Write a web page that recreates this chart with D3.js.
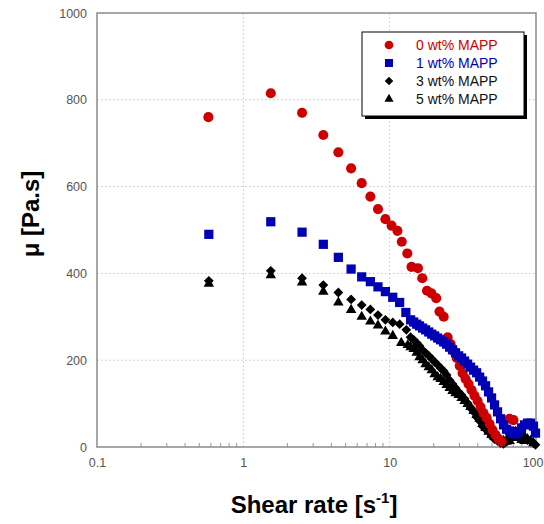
<!DOCTYPE html>
<html>
<head>
<meta charset="utf-8">
<script src="https://cdn.jsdelivr.net/npm/d3@7/dist/d3.min.js"></script>
<style>
	body { margin: 0; background: #fff; }
	text { font-family: "Liberation Sans", Arial, sans-serif; }
</style>
</head>
<body>
<div id="chart"></div>
<script>
// shear rate [1/s] and viscosity [Pa.s]
const rate0 = [0.577, 1.54, 2.52, 3.52, 4.46, 5.45, 6.44, 7.38, 8.32, 9.35, 10.3, 11.3, 12.1, 13.2, 14.1, 15.6, 16.7, 18.0, 19.3, 20.8, 21.9, 23.4,
	24.9, 26.1, 27.4, 28.7, 30.1, 31.5, 33.0, 34.6, 36.3, 38.0, 39.9, 41.8, 43.8, 46.0, 48.2, 50.5, 52.9, 55.5, 58.2, 66.0, 70.2];
const mu0 = [760, 815, 770, 719, 679, 642, 608, 577, 548, 525, 510, 498, 473, 446, 415, 412, 389, 360, 354, 343, 312, 300,
	253, 237, 221, 205, 187, 170, 157, 145, 131, 118, 106, 92, 78, 67, 53, 39, 28, 18, 12, 65, 62];

const rate1 = [0.581, 1.54, 2.52, 3.52, 4.46, 5.45, 6.44, 7.38, 8.32, 9.35, 10.5, 11.7, 12.9, 13.9,
	14.6, 15.3, 16.0, 16.8, 17.6, 18.5, 19.4, 20.3, 21.3, 22.3, 23.4, 24.5, 25.7, 26.9, 28.2, 29.6, 31.0, 32.5, 34.1, 35.7, 37.5, 39.3,
	41.2, 43.1, 45.2, 47.4, 49.7, 52.1, 54.6, 57.3, 60.0, 62.9, 66.0, 69.1, 72.5, 76.0, 79.6, 83.5, 87.5, 91.7, 96.1, 99.2];
const mu1 = [490, 519, 495, 467, 437, 410, 392, 381, 369, 358, 345, 333, 310, 293,
	288, 283, 279, 274, 270, 265, 260, 256, 251, 247, 242, 237, 230, 224, 217, 210, 205, 198, 191, 184, 177, 171,
	161, 152, 141, 127, 113, 97, 81, 65, 51, 41, 37, 32, 30, 35, 44, 51, 55, 55, 48, 32];

const rate3 = [0.581, 1.54, 2.52, 3.52, 4.46, 5.45, 6.44, 7.38, 8.32, 9.35, 10.5, 11.7, 13.0,
	13.9, 14.6, 15.3, 16.0, 16.8, 17.6, 18.5, 19.4, 20.3, 21.3, 22.3, 23.4, 24.5, 25.7, 26.9, 28.2, 29.6, 31.0, 32.5, 34.1, 35.7, 37.5,
	39.3, 41.2, 43.1, 45.2, 47.4, 49.7, 52.1, 54.6, 57.3, 60.0, 62.9, 66.0, 69.1, 72.5, 76.0, 79.6, 83.5, 87.5, 91.7, 96.1, 99.2];
const mu3 = [383, 406, 389, 373, 356, 340, 327, 317, 304, 293, 287, 283, 270,
	253, 247, 240, 233, 223, 217, 210, 203, 196, 189, 182, 175, 166, 154, 145, 136, 127, 120, 111, 101, 90, 81,
	69, 60, 48, 41, 35, 25, 18, 14, 9, 7, 12, 23, 32, 37, 39, 32, 23, 16, 14, 9, 5];

const rate5 = [0.581, 1.54, 2.52, 3.52, 4.46, 5.45, 6.44, 7.38, 8.32, 9.35, 10.5, 12.0,
	13.3, 13.9, 14.6, 15.3, 16.0, 16.8, 17.6, 18.5, 19.4, 20.3, 21.3, 22.3, 23.4, 24.5, 25.7, 26.9, 28.2, 29.6, 31.0, 32.5, 34.1, 35.7,
	37.5, 39.3, 41.2, 43.1, 45.2, 47.4, 49.7, 52.1, 54.6, 57.3, 60.0, 62.9, 66.0, 69.1, 72.5, 76.0, 79.6, 83.5, 87.5, 91.7, 96.1];
const mu5 = [376, 396, 379, 358, 333, 316, 300, 289, 280, 266, 256, 240,
	235, 230, 226, 217, 207, 200, 191, 184, 177, 168, 161, 157, 150, 143, 136, 129, 124, 120, 113, 106, 99, 92,
	83, 74, 65, 53, 44, 35, 28, 23, 18, 16, 14, 12, 14, 21, 23, 21, 16, 14, 18, 14, 9];

const seriesNames = ['0 wt% MAPP', '1 wt% MAPP', '3 wt% MAPP', '5 wt% MAPP'];
const seriesColors = ['#cc0000', '#0000b4', '#000000', '#000000'];
const seriesShapes = [d3.symbolCircle, d3.symbolSquare, d3.symbolSquare, d3.symbolTriangle];
const seriesRotate = [0, 0, 45, 0];
const seriesSizes = [80, 85, 48, 48];

const xTicks = [0.1, 1, 10, 100];
const yTicks = [0, 200, 400, 600, 800, 1000];

const W = 544, H = 524;
const margin = { top: 13, right: 8, bottom: 77, left: 97 };

const svg = d3.select('#chart').append('svg')
	.attr('width', W)
	.attr('height', H);

const x = d3.scaleLog().domain([0.1, 100]).range([margin.left, W - margin.right]);
const y = d3.scaleLinear().domain([0, 1000]).range([H - margin.bottom, margin.top]);

// gridlines
const $grid = svg.append('g');
$grid.selectAll('.hg')
	.data(yTicks.slice(1, -1))
	.enter().append('line')
	.attr('x1', x(0.1)).attr('x2', x(100))
	.attr('y1', d => y(d)).attr('y2', d => y(d))
	.attr('stroke', '#c4c4c4')
	.attr('stroke-dasharray', '1.5,2.5');
$grid.selectAll('.vg')
	.data(xTicks.slice(1, -1))
	.enter().append('line')
	.attr('x1', d => x(d)).attr('x2', d => x(d))
	.attr('y1', y(0)).attr('y2', y(1000))
	.attr('stroke', '#c4c4c4')
	.attr('stroke-dasharray', '1.5,2.5');

// minor ticks on log axis
const minor = [];
[0.1, 1, 10].forEach(dec => {
	for (let k = 2; k <= 9; k++) minor.push(dec * k);
});
svg.append('g').selectAll('line')
	.data(minor)
	.enter().append('line')
	.attr('x1', d => x(d)).attr('x2', d => x(d))
	.attr('y1', y(0)).attr('y2', y(0) - 4)
	.attr('stroke', '#999');

// axes
const xAxis = svg.append('g')
	.attr('transform', `translate(0,${y(0)})`)
	.call(d3.axisBottom(x).tickValues(xTicks).tickFormat(d3.format('')).tickSize(0).tickPadding(11));
const yAxis = svg.append('g')
	.attr('transform', `translate(${x(0.1)},0)`)
	.call(d3.axisLeft(y).tickValues(yTicks).tickFormat(d3.format('d')).tickSize(0).tickPadding(10));
[xAxis, yAxis].forEach($a => {
	$a.select('.domain').remove();
	$a.selectAll('text')
		.style('font-family', '"Liberation Sans", Arial, sans-serif')
		.style('font-size', '12.5px')
		.attr('fill', '#555');
});
// last label sits at the page edge; pull it in so it stays whole
xAxis.selectAll('.tick text').filter(d => d === 100).attr('text-anchor', 'end').attr('dx', 7);

// frame
svg.append('rect')
	.attr('x', x(0.1)).attr('y', y(1000))
	.attr('width', x(100) - x(0.1))
	.attr('height', y(0) - y(1000))
	.attr('fill', 'none')
	.attr('stroke', '#8a8a8a')
	.attr('stroke-width', 1.5);

// data, drawn black first so the coloured series sit on top
const allSeries = [
	{ rate: rate0, mu: mu0, idx: 0 },
	{ rate: rate1, mu: mu1, idx: 1 },
	{ rate: rate3, mu: mu3, idx: 2 },
	{ rate: rate5, mu: mu5, idx: 3 }
];
const drawOrder = [3, 2, 0, 1];

drawOrder.forEach(k => {
	const s = allSeries[k];
	const i = s.idx;
	const pts = s.rate.map((r, j) => [r, s.mu[j]]);
	svg.append('g').selectAll('path')
		.data(pts)
		.enter().append('path')
		.attr('d', d3.symbol().type(seriesShapes[i]).size(seriesSizes[i]))
		.attr('transform', d => `translate(${x(d[0])},${y(d[1])}) rotate(${seriesRotate[i]})`)
		.attr('fill', seriesColors[i]);
});

// legend
const lg = { x: 362, y: 32, w: 162, h: 84 };
const $legend = svg.append('g');
$legend.append('rect')
	.attr('x', lg.x + 3).attr('y', lg.y + 3)
	.attr('width', lg.w).attr('height', lg.h)
	.attr('fill', '#000');
$legend.append('rect')
	.attr('x', lg.x).attr('y', lg.y)
	.attr('width', lg.w).attr('height', lg.h)
	.attr('fill', '#fff')
	.attr('stroke', '#000');

seriesNames.forEach((name, i) => {
	const ry = 45 + i * 18;
	$legend.append('path')
		.attr('d', d3.symbol().type(seriesShapes[i]).size(seriesSizes[i] * 0.75))
		.attr('transform', `translate(389,${ry}) rotate(${seriesRotate[i]})`)
		.attr('fill', seriesColors[i]);
	$legend.append('text')
		.attr('x', 416).attr('y', ry + 5)
		.style('font-size', '14px')
		.attr('fill', i < 2 ? seriesColors[i] : '#111')
		.text(name);
});

// axis titles
const $xt = svg.append('text')
	.attr('x', 314).attr('y', 513)
	.attr('text-anchor', 'middle')
	.style('font-size', '24px')
	.style('font-weight', 'bold');
$xt.append('tspan').text('Shear rate [s');
$xt.append('tspan').attr('dy', -10).style('font-size', '15px').text('-1');
$xt.append('tspan').attr('dy', 10).text(']');

svg.append('text')
	.attr('transform', 'translate(39,214) rotate(-90)')
	.attr('text-anchor', 'middle')
	.style('font-size', '24px')
	.style('font-weight', 'bold')
	.text('\u03bc [Pa.s]');
</script>
</body>
</html>
